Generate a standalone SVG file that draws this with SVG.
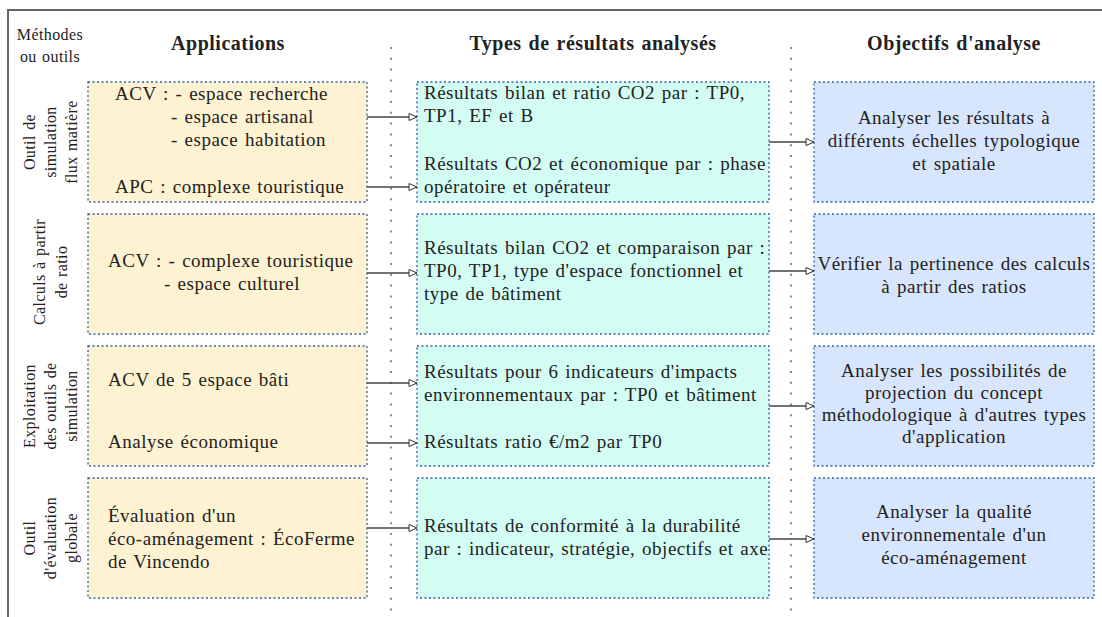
<svg xmlns="http://www.w3.org/2000/svg" width="1102" height="617" viewBox="0 0 1102 617" font-family="'Liberation Serif', 'DejaVu Serif', serif">
<defs>
<style>
text{font-family:'Liberation Serif','DejaVu Serif',serif;fill:#222;}
.t{font-size:19px;letter-spacing:0.5px;word-spacing:1.5px;}
.h{font-size:20px;font-weight:bold;letter-spacing:0.5px;word-spacing:1.5px;text-anchor:middle;}
.s{font-size:16px;letter-spacing:0.4px;word-spacing:1px;text-anchor:middle;}
.c{text-anchor:middle;}
.y{fill:#fdf2d1;}
.g{fill:#d3fcf3;}
.b{fill:#d7e5fd;}
.box{stroke:#2f5fa8;stroke-width:1.3;stroke-dasharray:2 2.5;}
.sep{stroke:#888;stroke-width:2;stroke-dasharray:2 8.8;fill:none;}
.ar{stroke:#444;stroke-width:1.3;fill:none;marker-end:url(#ah);}
</style>
<marker id="ah" markerWidth="10" markerHeight="9" refX="9" refY="4" orient="auto" markerUnits="userSpaceOnUse">
<path d="M1,0.5 L9,4 L1,7.5 Z" fill="#fff" stroke="#333" stroke-width="1"/>
</marker>
</defs>
<rect width="1102" height="617" fill="#fff"/>
<path d="M8,617 V10 H1102" stroke="#666" stroke-width="2" fill="none"/>
<g id="separators">
<line class="sep" x1="391" y1="47" x2="391" y2="617"/>
<line class="sep" x1="791" y1="47" x2="791" y2="617"/>
</g>
<g id="headers">
<text class="s" x="50" y="40">Méthodes</text>
<text class="s" x="50" y="62">ou outils</text>
<text class="h" x="228" y="50">Applications</text>
<text class="h" x="593" y="50">Types de résultats analysés</text>
<text class="h" x="954" y="50">Objectifs d'analyse</text>
</g>
<g id="row-labels">
<g transform="translate(0,142) rotate(-90)">
<text class="s" x="0" y="35">Outil de</text>
<text class="s" x="0" y="56">simulation</text>
<text class="s" x="0" y="77">flux matière</text>
</g>
<g transform="translate(0,272) rotate(-90)">
<text class="s" x="0" y="45">Calculs à partir</text>
<text class="s" x="0" y="67">de ratio</text>
</g>
<g transform="translate(0,406) rotate(-90)">
<text class="s" x="0" y="35">Exploitation</text>
<text class="s" x="0" y="56">des outils de</text>
<text class="s" x="0" y="77">simulation</text>
</g>
<g transform="translate(0,538) rotate(-90)">
<text class="s" x="0" y="35">Outil</text>
<text class="s" x="0" y="56">d'évaluation</text>
<text class="s" x="0" y="77">globale</text>
</g>
</g>
<g id="app1">
<rect class="y box" x="88" y="82" width="279" height="120"/>
<text class="t" x="115" y="100">ACV : - espace recherche</text>
<text class="t" x="171" y="123">- espace artisanal</text>
<text class="t" x="171" y="146">- espace habitation</text>
<text class="t" x="115" y="193">APC : complexe touristique</text>
</g>
<g id="app2">
<rect class="y box" x="88" y="214" width="279" height="120"/>
<text class="t" x="108" y="267">ACV : - complexe touristique</text>
<text class="t" x="164" y="290">- espace culturel</text>
</g>
<g id="app3">
<rect class="y box" x="88" y="346" width="279" height="120"/>
<text class="t" x="108" y="386">ACV de 5 espace bâti</text>
<text class="t" x="108" y="448">Analyse économique</text>
</g>
<g id="app4">
<rect class="y box" x="88" y="478" width="279" height="120"/>
<text class="t" x="108" y="522">Évaluation d'un</text>
<text class="t" x="108" y="545">éco-aménagement : ÉcoFerme</text>
<text class="t" x="108" y="568">de Vincendo</text>
</g>
<g id="res1">
<rect class="g box" x="417" y="82" width="352" height="120"/>
<text class="t" x="424" y="99">Résultats bilan et ratio CO2 par : TP0,</text>
<text class="t" x="424" y="122">TP1, EF et B</text>
<text class="t" x="424" y="170">Résultats CO2 et économique par : phase</text>
<text class="t" x="424" y="193">opératoire et opérateur</text>
</g>
<g id="res2">
<rect class="g box" x="417" y="214" width="352" height="120"/>
<text class="t" x="424" y="254">Résultats bilan CO2 et comparaison par :</text>
<text class="t" x="424" y="277">TP0, TP1, type d'espace fonctionnel et</text>
<text class="t" x="424" y="300">type de bâtiment</text>
</g>
<g id="res3">
<rect class="g box" x="417" y="346" width="352" height="120"/>
<text class="t" x="424" y="378">Résultats pour 6 indicateurs d'impacts</text>
<text class="t" x="424" y="401">environnementaux par : TP0 et bâtiment</text>
<text class="t" x="424" y="448">Résultats ratio €/m2 par TP0</text>
</g>
<g id="res4">
<rect class="g box" x="417" y="478" width="352" height="120"/>
<text class="t" x="424" y="532">Résultats de conformité à la durabilité</text>
<text class="t" x="424" y="555">par : indicateur, stratégie, objectifs et axe</text>
</g>
<g id="obj1">
<rect class="b box" x="814" y="82" width="280" height="120"/>
<text class="t c" x="954" y="124">Analyser les résultats à</text>
<text class="t c" x="954" y="147">différents échelles typologique</text>
<text class="t c" x="954" y="170">et spatiale</text>
</g>
<g id="obj2">
<rect class="b box" x="814" y="214" width="280" height="120"/>
<text class="t c" x="954" y="270">Vérifier la pertinence des calculs</text>
<text class="t c" x="954" y="293">à partir des ratios</text>
</g>
<g id="obj3">
<rect class="b box" x="814" y="346" width="280" height="120"/>
<text class="t c" x="954" y="377">Analyser les possibilités de</text>
<text class="t c" x="954" y="399">projection du concept</text>
<text class="t c" x="954" y="421">méthodologique à d'autres types</text>
<text class="t c" x="954" y="443">d'application</text>
</g>
<g id="obj4">
<rect class="b box" x="814" y="478" width="280" height="120"/>
<text class="t c" x="954" y="518">Analyser la qualité</text>
<text class="t c" x="954" y="541">environnementale d'un</text>
<text class="t c" x="954" y="564">éco-aménagement</text>
</g>
<g id="connectors">
<line class="ar" x1="367" y1="117" x2="417" y2="117"/>
<line class="ar" x1="367" y1="187" x2="417" y2="187"/>
<line class="ar" x1="769" y1="142" x2="814" y2="142"/>
<line class="ar" x1="367" y1="273" x2="417" y2="273"/>
<line class="ar" x1="769" y1="271" x2="814" y2="271"/>
<line class="ar" x1="367" y1="383" x2="417" y2="383"/>
<line class="ar" x1="367" y1="443" x2="417" y2="443"/>
<line class="ar" x1="769" y1="406" x2="814" y2="406"/>
<line class="ar" x1="367" y1="528" x2="417" y2="528"/>
<line class="ar" x1="769" y1="539" x2="814" y2="539"/>
</g>
</svg>
